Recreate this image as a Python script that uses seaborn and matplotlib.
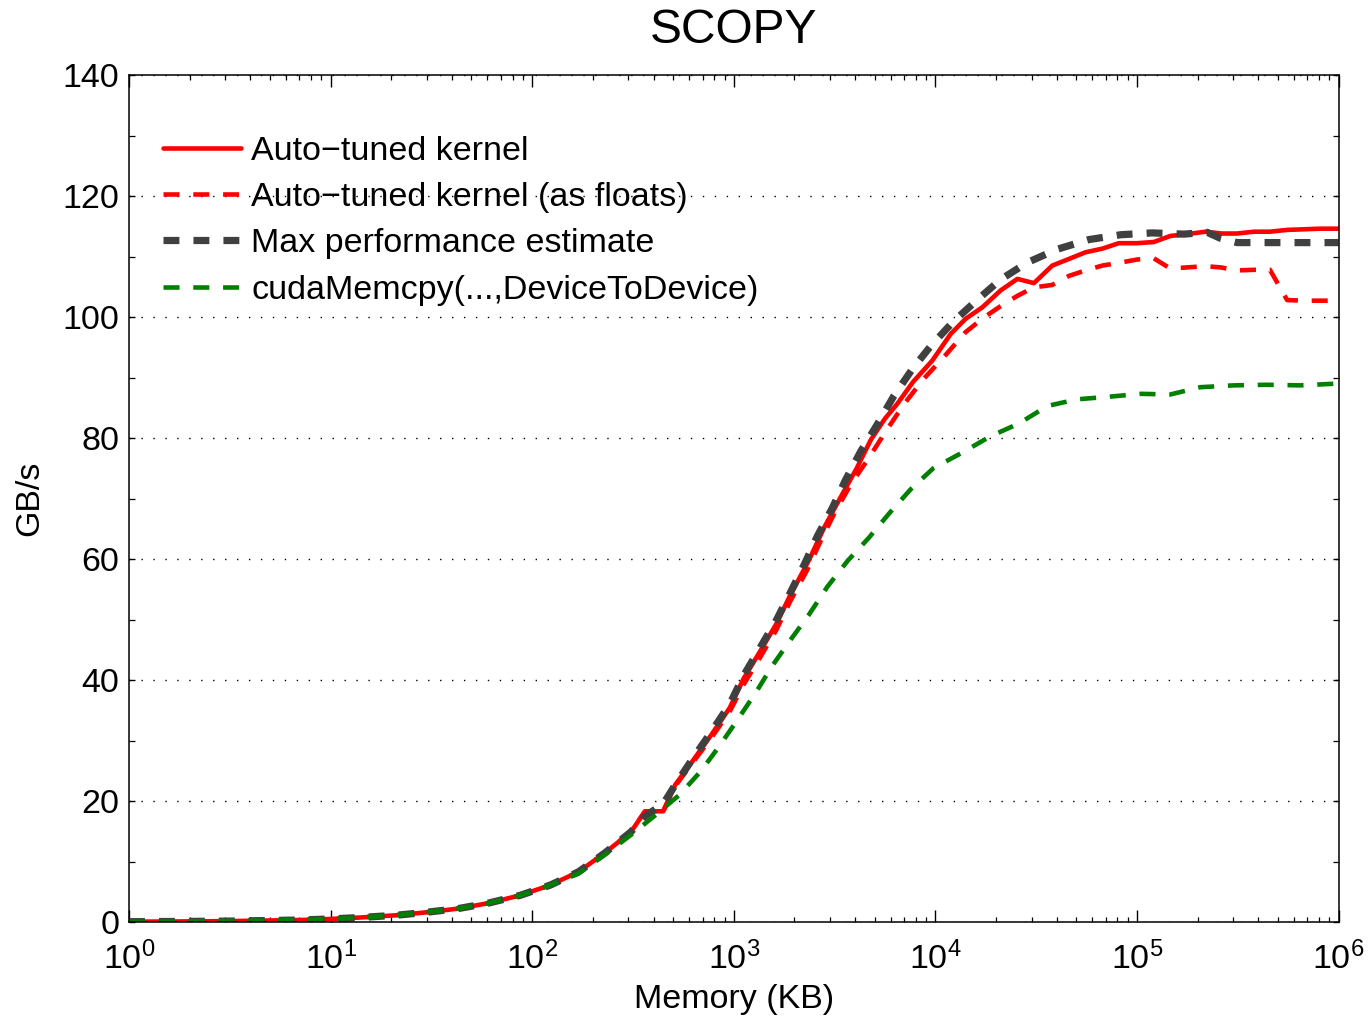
import numpy as np
import pandas as pd
import matplotlib
matplotlib.use("Agg")
import matplotlib.pyplot as plt
import seaborn as sns
from matplotlib.ticker import LogLocator, MultipleLocator, NullFormatter

# ---------------- data (memory as log10(KB), bandwidth in GB/s) ----------------
auto_log10 = [0.0, 0.3, 0.5, 0.7, 0.85, 1.0, 1.15, 1.32, 1.46, 1.63, 1.78, 1.94, 2.09, 2.23,
              2.36, 2.49, 2.56, 2.65, 2.71, 2.80, 2.89, 2.98, 3.05, 3.13, 3.21, 3.28, 3.37,
              3.45, 3.53, 3.61, 3.68, 3.75, 3.81, 3.89, 3.985, 4.076, 4.15, 4.233, 4.324,
              4.407, 4.489, 4.58, 4.663, 4.745, 4.828, 4.91, 5.0, 5.084, 5.166, 5.249, 5.34,
              5.42, 5.497, 5.58, 5.66, 5.745, 5.83, 5.91, 6.0]
auto_gbs = [0.05, 0.1, 0.15, 0.25, 0.33, 0.5, 0.75, 1.1, 1.55, 2.2, 3.1, 4.4, 6.1, 8.3,
            11.4, 14.9, 18.3, 18.3, 22.7, 26.8, 31.0, 35.4, 40.3, 44.7, 49.2, 54.0, 59.6,
            65.3, 70.2, 75.0, 79.7, 83.2, 85.6, 89.3, 92.8, 97.2, 99.7, 101.6, 104.4,
            106.3, 105.6, 108.5, 109.6, 110.7, 111.3, 112.2, 112.2, 112.4, 113.4, 113.7, 114.1,
            113.8, 113.8, 114.1, 114.1, 114.4, 114.5, 114.6, 114.6]

floats_log10 = [0.0, 0.3, 0.5, 0.7, 0.85, 1.0, 1.15, 1.32, 1.46, 1.63, 1.78, 1.94, 2.09, 2.23,
                2.36, 2.49, 2.56, 2.65, 2.71, 2.80, 2.89, 2.98, 3.05, 3.13, 3.21, 3.28, 3.366,
                3.43, 3.5, 3.58, 3.67, 3.754, 3.845, 3.94, 4.04, 4.15, 4.24, 4.324, 4.407,
                4.489, 4.58, 4.663, 4.745, 4.828, 4.92, 5.0, 5.084, 5.166, 5.249, 5.34, 5.415,
                5.497, 5.58, 5.66, 5.745, 5.83, 5.91, 6.0]
floats_gbs = [0.05, 0.1, 0.15, 0.25, 0.33, 0.5, 0.75, 1.1, 1.55, 2.2, 3.1, 4.4, 6.1, 8.3,
              11.4, 14.9, 18.3, 18.3, 22.5, 26.5, 30.5, 34.8, 39.3, 43.7, 48.2, 53.0, 58.3,
              62.9, 67.6, 72.3, 76.7, 81.1, 85.6, 89.7, 93.3, 97.5, 99.9, 101.8, 103.5,
              104.9, 105.3, 106.8, 107.7, 108.5, 109.0, 109.5, 109.7, 108.0, 108.2, 108.4, 108.2,
              107.7, 107.8, 107.8, 102.8, 102.7, 102.7, 102.7]

maxperf_log10 = [0.0, 0.3, 0.5, 0.7, 0.85, 1.0, 1.15, 1.32, 1.46, 1.63, 1.78, 1.94, 2.09, 2.23,
                 2.36, 2.49, 2.56, 2.65, 2.71, 2.80, 2.89, 2.98, 3.05, 3.13, 3.21, 3.28, 3.35,
                 3.415, 3.49, 3.555, 3.63, 3.713, 3.795, 3.886, 3.977, 4.085, 4.21, 4.324,
                 4.456, 4.605, 4.762, 4.92, 5.075, 5.233, 5.348, 5.415, 5.497, 5.66, 5.83, 6.0]
maxperf_gbs = [0.05, 0.1, 0.15, 0.25, 0.33, 0.5, 0.75, 1.1, 1.55, 2.2, 3.1, 4.4, 6.1, 8.3,
               11.4, 14.9, 17.5, 19.5, 22.7, 27.2, 31.5, 36.0, 40.8, 45.3, 49.8, 54.4, 59.1,
               63.8, 68.5, 73.1, 77.8, 82.3, 87.0, 91.4, 95.2, 99.1, 102.9, 106.2,
               109.0, 111.2, 112.8, 113.6, 113.9, 113.7, 114.0, 113.0, 112.3, 112.3, 112.3, 112.3]

memcpy_log10 = [0.0, 0.3, 0.5, 0.7, 0.85, 1.0, 1.15, 1.32, 1.46, 1.63, 1.78, 1.94, 2.09, 2.23,
                2.36, 2.49, 2.613, 2.73, 2.836, 2.927, 3.018, 3.109, 3.19, 3.283, 3.373, 3.464,
                3.565, 3.67, 3.77, 3.877, 3.99, 4.134, 4.274, 4.415, 4.556, 4.705, 4.853, 5.02,
                5.166, 5.315, 5.48, 5.64, 5.81, 6.0]
memcpy_gbs = [0.05, 0.1, 0.15, 0.25, 0.33, 0.5, 0.75, 1.1, 1.55, 2.2, 3.1, 4.4, 6.1, 8.0,
              11.1, 14.4, 17.7, 21.0, 24.9, 29.0, 33.4, 37.9, 42.3, 46.7, 50.8, 55.4,
              59.7, 63.5, 67.5, 71.5, 75.0, 77.6, 80.3, 82.4, 85.3, 86.4, 86.8, 87.3,
              87.2, 88.4, 88.7, 88.8, 88.7, 89.0]

series_labels = ["Auto\u2212tuned kernel", "Auto\u2212tuned kernel (as floats)",
                 "Max performance estimate", "cudaMemcpy(...,DeviceToDevice)"]
y_ticks = [0, 20, 40, 60, 80, 100, 120, 140]

# ---------------- style ----------------
sns.set_theme(style="ticks")
plt.rcParams["font.family"] = ["Liberation Sans", "DejaVu Sans"]
plt.rcParams["mathtext.fontset"] = "custom"
plt.rcParams["mathtext.rm"] = "Liberation Sans"
plt.rcParams["mathtext.it"] = "Liberation Sans"
plt.rcParams["text.color"] = "black"
plt.rcParams["axes.labelcolor"] = "black"
plt.rcParams["xtick.color"] = "black"
plt.rcParams["ytick.color"] = "black"
plt.rcParams["axes.linewidth"] = 1.1
plt.rcParams["axes.edgecolor"] = "black"

FS = 24.5

fig = plt.figure(figsize=(13.69, 10.19), dpi=100)
ax = fig.add_axes([0.09423, 0.09519, 0.8835, 0.8312])

specs = [
    (auto_log10, auto_gbs, "#ff0000", 3.3, None),
    (floats_log10, floats_gbs, "#ff0000", 3.3, (3.5, 3.0)),
    (maxperf_log10, maxperf_gbs, "#404040", 5.2, (2.2, 1.95)),
    (memcpy_log10, memcpy_gbs, "#008000", 3.3, (3.5, 3.0)),
]
for (lx, gy, col, lw, dash), lab in zip(specs, series_labels):
    df = pd.DataFrame({"mem": np.power(10.0, lx), "gbs": gy})
    sns.lineplot(data=df, x="mem", y="gbs", ax=ax, color=col, linewidth=lw,
                 label=lab, estimator=None, sort=False)
    line = ax.get_lines()[-1]
    if dash is not None:
        line.set_dashes(dash)
    line.set_dash_capstyle("butt")

ax.set_xscale("log")
ax.set_xlim(1, 1e6)
ax.set_ylim(0, 140)
ax.set_yticks(y_ticks)
ax.yaxis.set_minor_locator(MultipleLocator(10))
ax.xaxis.set_major_locator(LogLocator(base=10, numticks=10))
ax.xaxis.set_minor_locator(LogLocator(base=10, subs=np.arange(2, 10), numticks=20))
ax.xaxis.set_minor_formatter(NullFormatter())

ax.grid(False)
ax.yaxis.grid(True, which="major", color="black", linewidth=1.0,
              linestyle=(0, (1.0, 7.6)))
ax.set_axisbelow(True)

ax.tick_params(axis="both", which="both", direction="in", top=True, right=True,
               colors="black", labelcolor="black", labelsize=FS)
ax.tick_params(axis="x", which="major", length=8.5, width=1.0, pad=14)
ax.tick_params(axis="x", which="minor", length=3.6, width=0.9)
ax.tick_params(axis="y", which="major", length=4.5, width=1.0, pad=7)
ax.tick_params(axis="y", which="minor", length=4.3, width=0.9)
for sp in ax.spines.values():
    sp.set_visible(True)
    sp.set_color("black")
    sp.set_linewidth(1.1)

ax.set_xlabel("Memory (KB)", fontsize=FS, labelpad=6, color="black")
ax.set_ylabel("GB/s", fontsize=FS, labelpad=12, color="black")
ax.set_title("SCOPY", fontsize=34.5, pad=23, color="black")

leg = ax.legend(loc="upper left", bbox_to_anchor=(0.0281, 0.9285), frameon=False,
                fontsize=FS, borderpad=0, borderaxespad=0, handlelength=2.3,
                handletextpad=0.3, labelspacing=0.45)
for t in leg.get_texts():
    t.set_color("black")

fig.savefig("out.png", dpi=100)
